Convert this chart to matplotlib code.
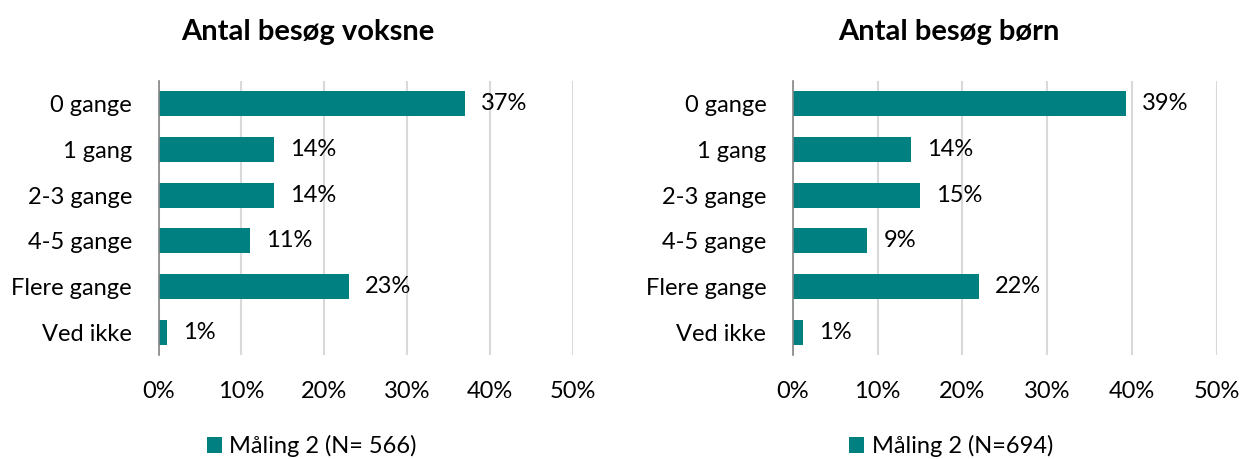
import matplotlib
matplotlib.use("Agg")
import matplotlib.pyplot as plt
from matplotlib.ticker import FuncFormatter

plt.rcParams['font.family'] = ['Lato', 'DejaVu Sans']

categories = ["0 gange", "1 gang", "2-3 gange", "4-5 gange", "Flere gange", "Ved ikke"]
voksne = [37, 14, 14, 11, 23, 1]
boern = [39.3, 13.9, 15, 8.8, 21.9, 1.2]
voksne_labels = ["37%", "14%", "14%", "11%", "23%", "1%"]
boern_labels = ["39%", "14%", "15%", "9%", "22%", "1%"]
titles = ["Antal besøg voksne", "Antal besøg børn"]
legends = ["Måling 2 (N= 566)", "Måling 2 (N=694)"]
xticks = [0, 10, 20, 30, 40, 50]

COLOR = "#008080"
FS = 17

fig = plt.figure(figsize=(12.43, 4.59), dpi=100)
ax1 = fig.add_axes([158.5/1243, 1-355/459, (572.7-158.5)/1243, (355-81)/459])
ax2 = fig.add_axes([792.7/1243, 1-355/459, (1217-792.7)/1243, (355-81)/459])

title_x = [307.5/1243, 949/1243]
legend_x = [312/1243, 951/1243]

for i, (ax, vals, labs) in enumerate([(ax1, voksne, voksne_labels), (ax2, boern, boern_labels)]):
    y = list(range(len(categories)))
    bars = ax.barh(y, vals, height=0.55, color=COLOR, label=legends[i], zorder=3)
    ax.bar_label(bars, labels=labs, padding=11.5, fontsize=FS, color="#000000")
    ax.set_yticks(y)
    ax.set_yticklabels(categories, fontsize=FS)
    ax.set_ylim(len(categories) - 0.5, -0.5)
    ax.set_xlim(0, 50)
    ax.set_xticks(xticks)
    ax.xaxis.set_major_formatter(FuncFormatter(lambda v, p: f"{int(v)}%"))
    ax.tick_params(axis='x', labelsize=FS, length=0, pad=19)
    ax.tick_params(axis='y', length=0, pad=19)
    ax.grid(axis='x', color="#D9D9D9", linewidth=1.5, zorder=0)
    for s in ['top', 'right', 'bottom']:
        ax.spines[s].set_visible(False)
    ax.spines['left'].set_color("#868686")
    ax.spines['left'].set_linewidth(1.2)
    ax.spines['left'].set_zorder(4)
    fig.text(title_x[i], 1-32/459, titles[i], ha='center', va='center',
             fontsize=21, fontweight='bold')
    leg = fig.legend(handles=[bars], labels=[legends[i]], loc='center',
                     bbox_to_anchor=(legend_x[i], 1-446/459), frameon=False,
                     fontsize=FS, handlelength=0.65, handleheight=0.65,
                     handletextpad=0.3, borderpad=0, borderaxespad=0)

fig.savefig("out.png", dpi=100, facecolor="white")
